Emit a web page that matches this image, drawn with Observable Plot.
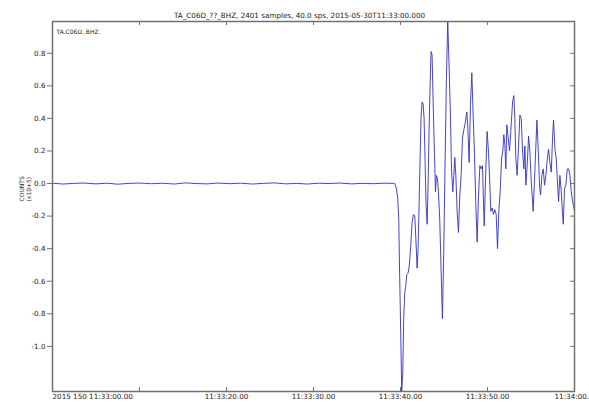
<!DOCTYPE html>
<html>
<head>
<meta charset="utf-8">
<script src="https://cdn.jsdelivr.net/npm/d3@7"></script>
<script src="https://cdn.jsdelivr.net/npm/@observablehq/plot@0.6"></script>
<style>
  html, body { margin: 0; padding: 0; background: #fff; overflow: hidden; }
  #chart { width: 589px; height: 404px; }
</style>
</head>
<body>
<div id="chart"></div>
<script>
// ---- Data (seconds after 2015-05-30T11:33:00, counts x10^5) ----
const title = "TA_C06D_??_BHZ, 2401 samples, 40.0 sps, 2015-05-30T11:33:00.000";
const traceLabel = "TA.C06D..BHZ.";
const yLabel1 = "COUNTS";
const yLabel2 = "(x10+5)";

const times = [
  0, 1.2, 2.5, 3.6, 5, 6.3, 7.5, 8.8, 10, 11.4, 12.6, 14, 15.3, 16.5, 17.8, 19,
  20.4, 21.6, 23, 24.2, 25.5, 26.8, 28, 29.3, 30.6, 31.8, 33, 34.4, 35.6, 36.9, 38.1, 39.2,
  39.34, 39.53, 39.68, 39.80, 39.91, 40.03, 40.14, 40.26, 40.37, 40.49, 40.60, 40.72, 40.87,
  41.02, 41.18, 41.33, 41.48, 41.64, 41.75, 41.91, 42.02, 42.14, 42.25, 42.37, 42.48, 42.60,
  42.71, 42.83, 42.94, 43.06, 43.17, 43.29, 43.40, 43.52, 43.63, 43.75, 43.90, 44.02, 44.13,
  44.25, 44.36, 44.51, 44.67, 44.82, 44.97, 45.13, 45.28, 45.43, 45.59, 45.74, 45.86, 46.01,
  46.13, 46.24, 46.36, 46.51, 46.66, 46.82, 46.97, 47.12, 47.28, 47.43, 47.62, 47.74, 47.89,
  48.04, 48.20, 48.35, 48.50, 48.66, 48.81, 48.96, 49.12, 49.27, 49.42, 49.62, 49.81, 49.96,
  50.12, 50.27, 50.38, 50.54, 50.69, 50.84, 51.00, 51.15, 51.30, 51.46, 51.61, 51.76, 51.88,
  51.99, 52.11, 52.22, 52.38, 52.53, 52.68, 52.88, 53.03, 53.14, 53.26, 53.41, 53.57, 53.72,
  53.88, 54.03, 54.18, 54.30, 54.41, 54.56, 54.72, 54.87, 55.02, 55.25, 55.41, 55.56, 55.68,
  55.83, 55.98, 56.10, 56.25, 56.41, 56.56, 56.71, 56.87, 57.02, 57.17, 57.33, 57.48, 57.59,
  57.75, 57.90, 58.02, 58.17, 58.32, 58.48, 58.63, 58.71, 58.86, 59.01, 59.17, 59.32, 59.48,
  59.63, 59.78, 59.94, 60.00
];
const counts = [
  0.002, -0.003, 0.001, 0.003, -0.002, 0.002, -0.004, 0.001, 0.003, -0.001, 0.002, -0.003, 0.004, 0.000, -0.002, 0.003,
  -0.001, 0.002, -0.003, 0.001, 0.004, -0.002, 0.001, -0.003, 0.002, 0.000, 0.003, -0.002, 0.001, -0.001, 0.002, 0.001,
  0.000, -0.03, -0.09, -0.22, -0.58, -0.93, -1.277, -1.16, -0.83, -0.67, -0.63, -0.56, -0.55,
  -0.50, -0.38, -0.24, -0.19, -0.20, -0.32, -0.52, -0.40, -0.13, 0.15, 0.42, 0.50, 0.49,
  0.40, 0.13, -0.13, -0.25, -0.01, 0.34, 0.60, 0.81, 0.79, 0.50, 0.19, -0.05, 0.05,
  0.03, -0.05, -0.22, -0.54, -0.83, -0.42, 0.15, 0.65, 0.995, 0.71, 0.42, 0.09, -0.05,
  0.05, 0.16, 0.05, -0.17, -0.30, -0.07, 0.05, 0.28, 0.33, 0.37, 0.44, 0.34, 0.13,
  0.48, 0.68, 0.42, 0.19, -0.13, -0.36, -0.09, 0.11, 0.09, 0.11, -0.26, 0.09, 0.32,
  0.19, -0.01, -0.17, -0.15, -0.19, -0.16, -0.19, -0.40, -0.17, -0.05, 0.15, 0.20, 0.30,
  0.24, 0.09, 0.36, 0.28, 0.20, 0.32, 0.50, 0.54, 0.40, 0.15, 0.05, 0.23, 0.42,
  0.40, 0.20, 0.09, 0.23, -0.01, 0.11, 0.29, 0.20, 0.02, -0.17, 0.03, 0.23, 0.39,
  0.21, -0.01, -0.07, 0.05, 0.09, -0.01, 0.05, 0.15, 0.21, 0.13, 0.07, 0.28, 0.39,
  0.21, 0.15, 0.03, -0.11, 0.05, -0.05, -0.19, -0.25, -0.03, -0.01, 0.09, 0.09, 0.05,
  -0.05, -0.11, -0.15, -0.17
];

const xTickValues = [0, 10, 20, 30, 40, 50, 60];
const xTickLabels = ["2015 150 11:33:00.00", "", "11:33:20.00", "11:33:30.00", "11:33:40.00", "11:33:50.00", "11:34:00."];
const yTickValues = [0.8, 0.6, 0.4, 0.2, 0.0, -0.2, -0.4, -0.6, -0.8, -1.0];

// ---- Build ----
const data = times.map((t, i) => ({t, v: counts[i]}));
const xLabelData = xTickValues.map((x, i) => ({x, label: xTickLabels[i]}));

const W = 589, H = 404;
const mL = 52, mR = 15, mT = 21, mB = 13;
const frameW = W - mL - mR, frameH = H - mT - mB;
const tick = 4;
const axisGray = "#707070";
const fs = 7.2;

const chart = Plot.plot({
  width: W,
  height: H,
  marginLeft: mL,
  marginRight: mR,
  marginTop: mT,
  marginBottom: mB,
  style: {fontFamily: "DejaVu Sans", fontSize: fs + "px", background: "#fff", color: "#222", overflow: "visible"},
  x: {domain: [0, 60], axis: null},
  y: {domain: d3.extent(counts), axis: null},
  marks: [
    // waveform
    Plot.line(data, {x: "t", y: "v", stroke: "#3030c8", strokeWidth: 0.9}),
    // frame
    Plot.frame({stroke: axisGray, strokeWidth: 1.5}),
    // left axis (outward ticks)
    Plot.axisY(yTickValues, {anchor: "left", label: null, tickSize: 5, tickPadding: 2, stroke: axisGray,
      tickFormat: d => d.toFixed(1), fontSize: fs, fill: "#222"}),
    // right inward ticks
    Plot.tickY(yTickValues, {y: d => d, stroke: axisGray, insetLeft: frameW - tick}),
    // top inward ticks
    Plot.tickX(xTickValues.slice(1, -1), {x: d => d, stroke: axisGray, insetBottom: frameH - tick}),
    // bottom inward ticks
    Plot.tickX(xTickValues.slice(1, -1), {x: d => d, stroke: axisGray, insetTop: frameH - tick}),
    // x tick labels
    Plot.text(xLabelData.slice(0, 1), {x: "x", text: "label", frameAnchor: "bottom", textAnchor: "start",
      lineAnchor: "top", dy: 2, fontSize: fs, fill: "#222"}),
    Plot.text(xLabelData.slice(1, -1), {x: "x", text: "label", frameAnchor: "bottom", textAnchor: "middle",
      lineAnchor: "top", dy: 2, fontSize: fs, fill: "#222"}),
    Plot.text(xLabelData.slice(-1), {x: "x", text: "label", frameAnchor: "bottom", textAnchor: "start",
      lineAnchor: "top", dx: -20, dy: 2, fontSize: fs, fill: "#222"}),
    // title
    Plot.text([title], {frameAnchor: "top", text: d => d, dx: -14, dy: -9, fontSize: fs, fill: "#222"}),
    // trace label
    Plot.text([traceLabel], {frameAnchor: "top-left", text: d => d, dx: 4, dy: 8, textAnchor: "start", fontSize: 6, fill: "#222"}),
    // y label
    Plot.text([yLabel1], {frameAnchor: "left", text: d => d, rotate: -90, dx: -30, dy: -5, fontSize: 6, fill: "#222"}),
    Plot.text([yLabel2], {frameAnchor: "left", text: d => d, rotate: -90, dx: -23.5, dy: -5, fontSize: 6, fill: "#222"})
  ]
});
document.getElementById("chart").appendChild(chart);
</script>
</body>
</html>
